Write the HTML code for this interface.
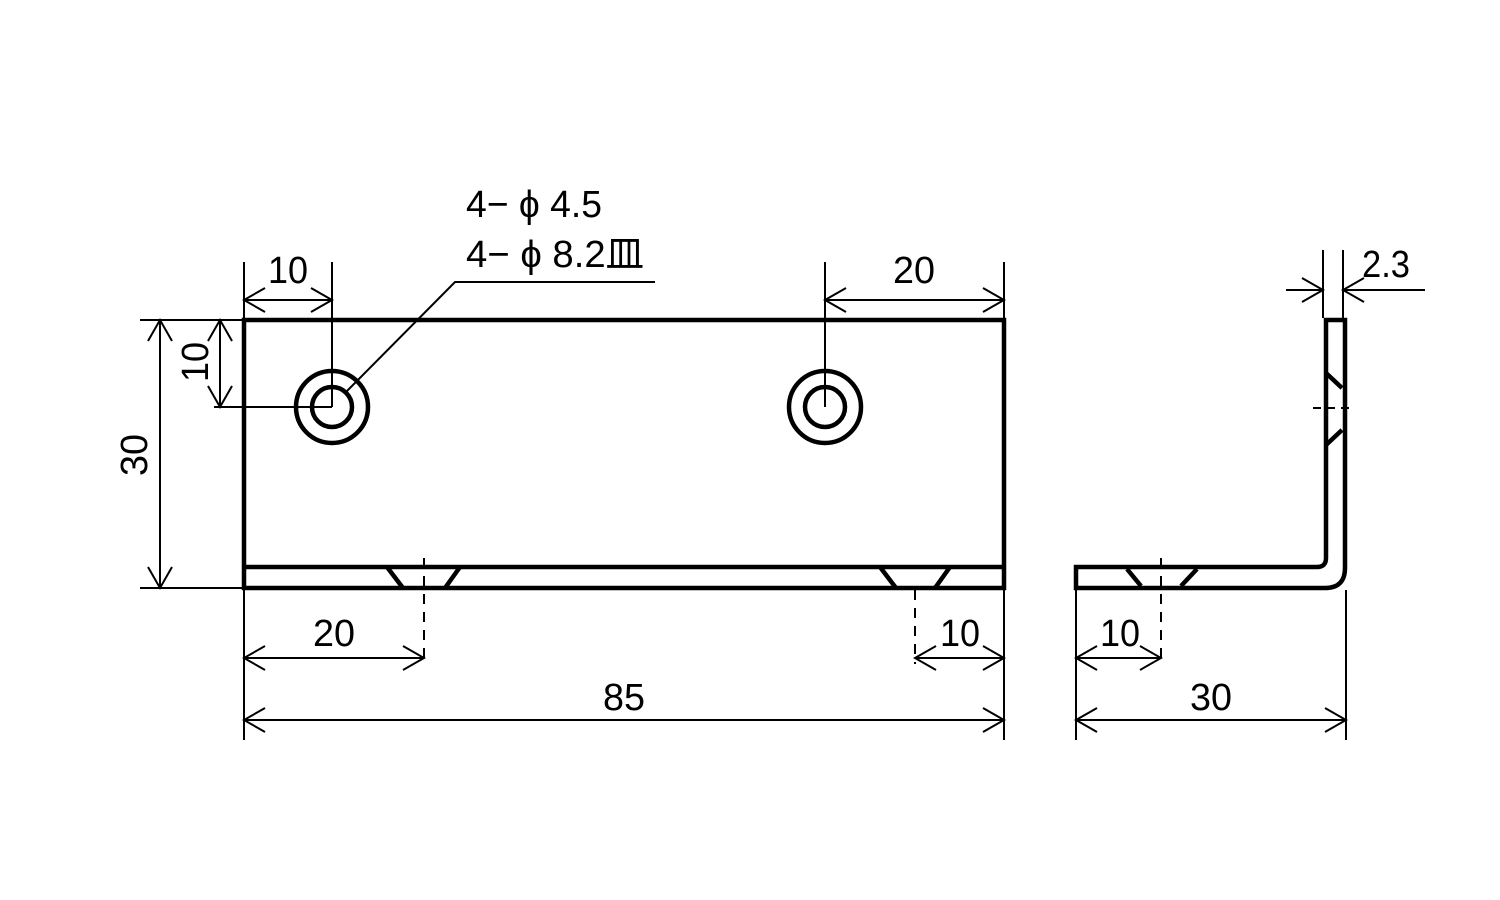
<!DOCTYPE html>
<html><head><meta charset="utf-8"><style>
html,body{margin:0;padding:0;background:#fff;}
svg{display:block;}
text{font-family:"Liberation Sans","Noto Sans CJK JP",sans-serif;font-size:38px;fill:#000;}
</style></head><body>
<svg width="1500" height="900" viewBox="0 0 1500 900" xmlns="http://www.w3.org/2000/svg">
<g fill="none" stroke="#000" stroke-linecap="butt">
<g stroke-width="4.5">
<rect x="244" y="320" width="760" height="268"/>
<line x1="244" y1="567" x2="1004" y2="567"/>
<polyline points="387,567 403,588"/><polyline points="460,567 445,588"/>
<polyline points="880,567 896,588"/><polyline points="950,567 935,588"/>
<circle cx="332" cy="407" r="36"/><circle cx="332" cy="407" r="20"/>
<circle cx="825" cy="407" r="36"/><circle cx="825" cy="407" r="20"/>
</g>
<g stroke-width="4.5">
<path d="M1326,320 L1345,320 L1345,568 Q1345,588 1325,588 L1076,588 L1076,567 L1317,567 Q1326,567 1326,558 Z"/>
<line x1="1326" y1="373" x2="1342" y2="388"/><line x1="1342" y1="430" x2="1326" y2="445"/>
<line x1="1127" y1="569" x2="1141" y2="586"/><line x1="1197" y1="569" x2="1181" y2="586"/>
</g>
<g stroke-width="2">
<line x1="1313" y1="408" x2="1355" y2="408" stroke-dasharray="8,6"/>
<line x1="1161" y1="558" x2="1161" y2="660" stroke-dasharray="10,8"/>
<line x1="424" y1="558" x2="424" y2="664" stroke-dasharray="10,8"/>
<line x1="915" y1="590" x2="915" y2="664" stroke-dasharray="10,8"/>
<line x1="332" y1="262" x2="332" y2="407"/>
<line x1="825" y1="262" x2="825" y2="407"/>
<line x1="214" y1="407" x2="332" y2="407"/>
<line x1="244" y1="262" x2="244" y2="740"/>
<line x1="1004" y1="262" x2="1004" y2="740"/>
<line x1="140" y1="320" x2="244" y2="320"/>
<line x1="140" y1="588" x2="244" y2="588"/>
<line x1="1076" y1="590" x2="1076" y2="740"/>
<line x1="1346" y1="590" x2="1346" y2="740"/>
<line x1="1323" y1="250" x2="1323" y2="318"/>
<line x1="1343" y1="250" x2="1343" y2="318"/>
<line x1="244" y1="300" x2="332" y2="300"/>
<line x1="825" y1="300" x2="1004" y2="300"/>
<line x1="220" y1="320" x2="220" y2="407"/>
<line x1="160" y1="320" x2="160" y2="588"/>
<line x1="244" y1="658" x2="424" y2="658"/>
<line x1="915" y1="658" x2="1004" y2="658"/>
<line x1="244" y1="720" x2="1004" y2="720"/>
<line x1="1076" y1="658" x2="1161" y2="658"/>
<line x1="1076" y1="720" x2="1346" y2="720"/>
<line x1="1286" y1="290" x2="1323" y2="290"/>
<line x1="1343" y1="290" x2="1425" y2="290"/>
<polyline points="347,391 455,282 655,282"/>
<polyline points="265,288 244,300 265,312"/><polyline points="311,288 332,300 311,312"/>
<polyline points="846,288 825,300 846,312"/><polyline points="983,288 1004,300 983,312"/>
<polyline points="208,341 220,320 232,341"/><polyline points="208,386 220,407 232,386"/>
<polyline points="148,341 160,320 172,341"/><polyline points="148,567 160,588 172,567"/>
<polyline points="265,646 244,658 265,670"/><polyline points="403,646 424,658 403,670"/>
<polyline points="936,646 915,658 936,670"/><polyline points="983,646 1004,658 983,670"/>
<polyline points="265,708 244,720 265,732"/><polyline points="983,708 1004,720 983,732"/>
<polyline points="1097,646 1076,658 1097,670"/><polyline points="1140,646 1161,658 1140,670"/>
<polyline points="1097,708 1076,720 1097,732"/><polyline points="1325,708 1346,720 1325,732"/>
<polyline points="1302,278 1323,290 1302,302"/><polyline points="1364,278 1343,290 1364,302"/>
</g>
</g>
<text x="268" y="283" textLength="40" lengthAdjust="spacingAndGlyphs">10</text>
<text x="893" y="283" textLength="42" lengthAdjust="spacingAndGlyphs">20</text>
<text x="313" y="646" textLength="42" lengthAdjust="spacingAndGlyphs">20</text>
<text x="940" y="646" textLength="40" lengthAdjust="spacingAndGlyphs">10</text>
<text x="603" y="710" textLength="42" lengthAdjust="spacingAndGlyphs">85</text>
<text x="1100" y="646" textLength="40" lengthAdjust="spacingAndGlyphs">10</text>
<text x="1190" y="710" textLength="42" lengthAdjust="spacingAndGlyphs">30</text>
<text x="1362" y="277" textLength="48" lengthAdjust="spacingAndGlyphs">2.3</text>
<text transform="translate(208,382) rotate(-90)" textLength="40" lengthAdjust="spacingAndGlyphs">10</text>
<text transform="translate(147,476) rotate(-90)" textLength="42" lengthAdjust="spacingAndGlyphs">30</text>
<text x="466" y="217" textLength="136" lengthAdjust="spacingAndGlyphs">4− ϕ 4.5</text>
<text x="466" y="267" textLength="178" lengthAdjust="spacingAndGlyphs">4− ϕ 8.2皿</text>
</svg>
</body></html>
